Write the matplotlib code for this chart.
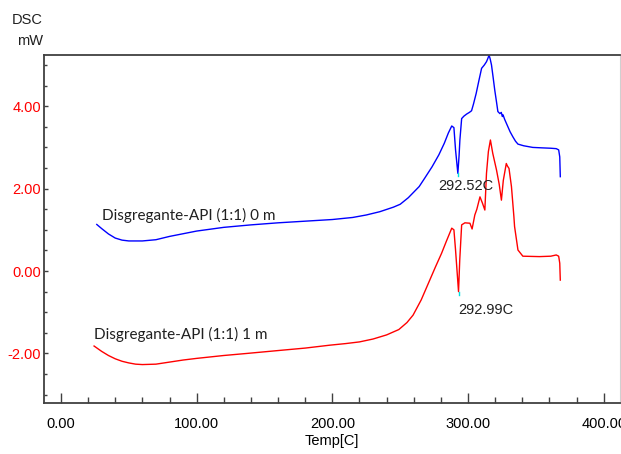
import numpy as np
import matplotlib
matplotlib.use('Agg')
import matplotlib.pyplot as plt
from matplotlib import font_manager
from matplotlib.ticker import MultipleLocator, FormatStrFormatter

# 找一个窄体字体，没有就用 Liberation Sans
narrow = None
for name, size in [('Liberation Sans Narrow', 12), ('Arial Narrow', 12), ('Liberation Sans', 10.5)]:
    try:
        font_manager.findfont(name, fallback_to_default=False)
        narrow = (name, size)
        break
    except Exception:
        pass
if narrow is None:
    narrow = ('DejaVu Sans', 9.5)
fs = narrow[1]
plt.rcParams['font.family'] = [narrow[0], 'DejaVu Sans']

# 曲线数据 (温度, mW)
blue_t = [26.4, 30, 35, 40, 45, 50, 60, 70, 80, 100, 120, 140, 160, 180, 200, 215, 225, 235,
          245, 250, 256, 264, 268, 273.5, 278.5, 282.5, 285.5, 288, 289.6, 290.8, 292.5, 293.4,
          294, 295.3, 297, 299, 301, 302.6, 304, 306, 308, 310, 312, 313.6, 314.5, 315.5, 316.3,
          317.3, 318.5, 319.7, 321, 322, 323.5, 324.5, 325.3, 325.8, 327, 329.4, 331, 333, 335,
          336.8, 341, 347.7, 354, 361, 365, 366.8, 367.6, 368]
blue_v = [1.13, 1.03, 0.9, 0.8, 0.75, 0.73, 0.73, 0.76, 0.84, 0.97, 1.06, 1.12, 1.17, 1.21,
          1.25, 1.30, 1.36, 1.44, 1.55, 1.62, 1.78, 2.05, 2.25, 2.53, 2.82, 3.1, 3.35, 3.52,
          3.48, 2.94, 2.37, 2.8, 3.18, 3.7, 3.76, 3.81, 3.85, 3.89, 4.05, 4.31, 4.62, 4.92, 5.0,
          5.08, 5.15, 5.24, 5.15, 5.0, 4.7, 4.39, 4.1, 3.87, 3.82, 3.85, 3.75, 3.79, 3.68, 3.5,
          3.38, 3.26, 3.15, 3.08, 3.04, 3.0, 2.99, 2.98, 2.97, 2.94, 2.77, 2.29]

red_t = [24.4, 30, 35, 40, 45, 50, 55, 60, 70, 80, 90, 100, 120, 137, 160, 180, 198, 210, 220,
         230, 240, 249, 255, 259.5, 265.5, 271.8, 276, 280.5, 284, 288, 289.6, 290.8, 293.0,
         293.9, 295.3, 297.7, 301.4, 303, 305, 306.5, 308.8, 310.6, 312.4, 313.6, 315, 316.5,
         318.2, 321, 323, 324.6, 326, 328.2, 329, 330.2, 332, 333.8, 334.3, 336.8, 340.4,
         352.6, 361, 365, 366.8, 367.6, 368]
red_v = [-1.82, -1.95, -2.05, -2.13, -2.19, -2.23, -2.26, -2.27, -2.26, -2.21, -2.16, -2.12,
         -2.05, -2.0, -1.93, -1.87, -1.8, -1.76, -1.72, -1.65, -1.55, -1.42, -1.25, -1.07, -0.7,
         -0.22, 0.1, 0.43, 0.72, 1.04, 1.0, 0.51, -0.5, 0.27, 1.12, 1.17, 1.16, 1.02, 1.36, 1.5,
         1.80, 1.65, 1.48, 2.37, 2.9, 3.18, 2.86, 2.45, 2.1, 1.72, 2.2, 2.61, 2.55, 2.49, 2.05,
         1.32, 1.08, 0.51, 0.36, 0.35, 0.36, 0.39, 0.36, 0.19, -0.22]

blue_name = "Disgregante-API (1:1) 0 m"
red_name = "Disgregante-API (1:1) 1 m"
blue_peak = "292.52C"
red_peak = "292.99C"

fig = plt.figure(figsize=(6.21, 4.54), dpi=100)
ax = fig.add_axes([44 / 621, 1 - 403.3 / 454, 576 / 621, (403.3 - 54.7) / 454])

ax.plot(blue_t, blue_v, color='#0000ff', lw=1.0)
ax.plot(red_t, red_v, color='#ff0000', lw=1.0)

# 峰底的青色标记
for tt, vv in [(blue_t, blue_v), (red_t, red_v)]:
    tt = np.array(tt)
    vv = np.array(vv)
    m = (tt > 288) & (tt < 296)
    i = np.argmin(np.where(m, vv, 99))
    ax.plot([tt[i], tt[i]], [vv[i] - 0.07, vv[i]], color='#00e0e0', lw=1.0)

ax.set_xlim(-12.5, 412)
ax.set_ylim(-3.21, 5.25)

ax.xaxis.set_major_locator(MultipleLocator(100))
ax.xaxis.set_minor_locator(MultipleLocator(20))
ax.yaxis.set_major_locator(MultipleLocator(2))
ax.yaxis.set_minor_locator(MultipleLocator(0.5))
ax.xaxis.set_major_formatter(FormatStrFormatter('%.2f'))
ax.yaxis.set_major_formatter(FormatStrFormatter('%.2f'))

ax.tick_params(axis='x', which='major', direction='in', length=7, width=1, color='#404040',
               labelsize=fs, pad=10)
ax.tick_params(axis='x', which='minor', direction='in', length=4, width=1, color='#404040')
ax.tick_params(axis='y', which='major', direction='in', length=3, width=1, color='#404040',
               labelsize=fs, labelcolor='#ff0000', pad=2)
ax.tick_params(axis='y', which='minor', direction='in', length=2, width=1, color='#404040')

for s in ['left', 'bottom', 'top']:
    ax.spines[s].set_color('#404040')
    ax.spines[s].set_linewidth(1.3)
ax.spines['right'].set_color('#d0d0d0')
ax.spines['right'].set_linewidth(0.8)

ax.set_xlabel("Temp[C]", fontsize=fs, labelpad=2)

fig.text(43 / 621, 1 - 20 / 454, "DSC", fontsize=fs, ha='right', va='center', color='#202020')
fig.text(43 / 621, 1 - 41 / 454, "mW", fontsize=fs, ha='right', va='center', color='#202020')

ax.text(30, 1.36, blue_name, fontsize=11, family=['Lato', 'DejaVu Sans'], color='#202020',
        ha='left', va='center')
ax.text(24.3, -1.55, red_name, fontsize=11, family=['Lato', 'DejaVu Sans'], color='#202020',
        ha='left', va='center')
ax.text(277.8, 2.06, blue_peak, fontsize=fs, color='#202020', ha='left', va='center')
ax.text(292.6, -0.95, red_peak, fontsize=fs, color='#202020', ha='left', va='center')

fig.savefig('out.png', dpi=100)
